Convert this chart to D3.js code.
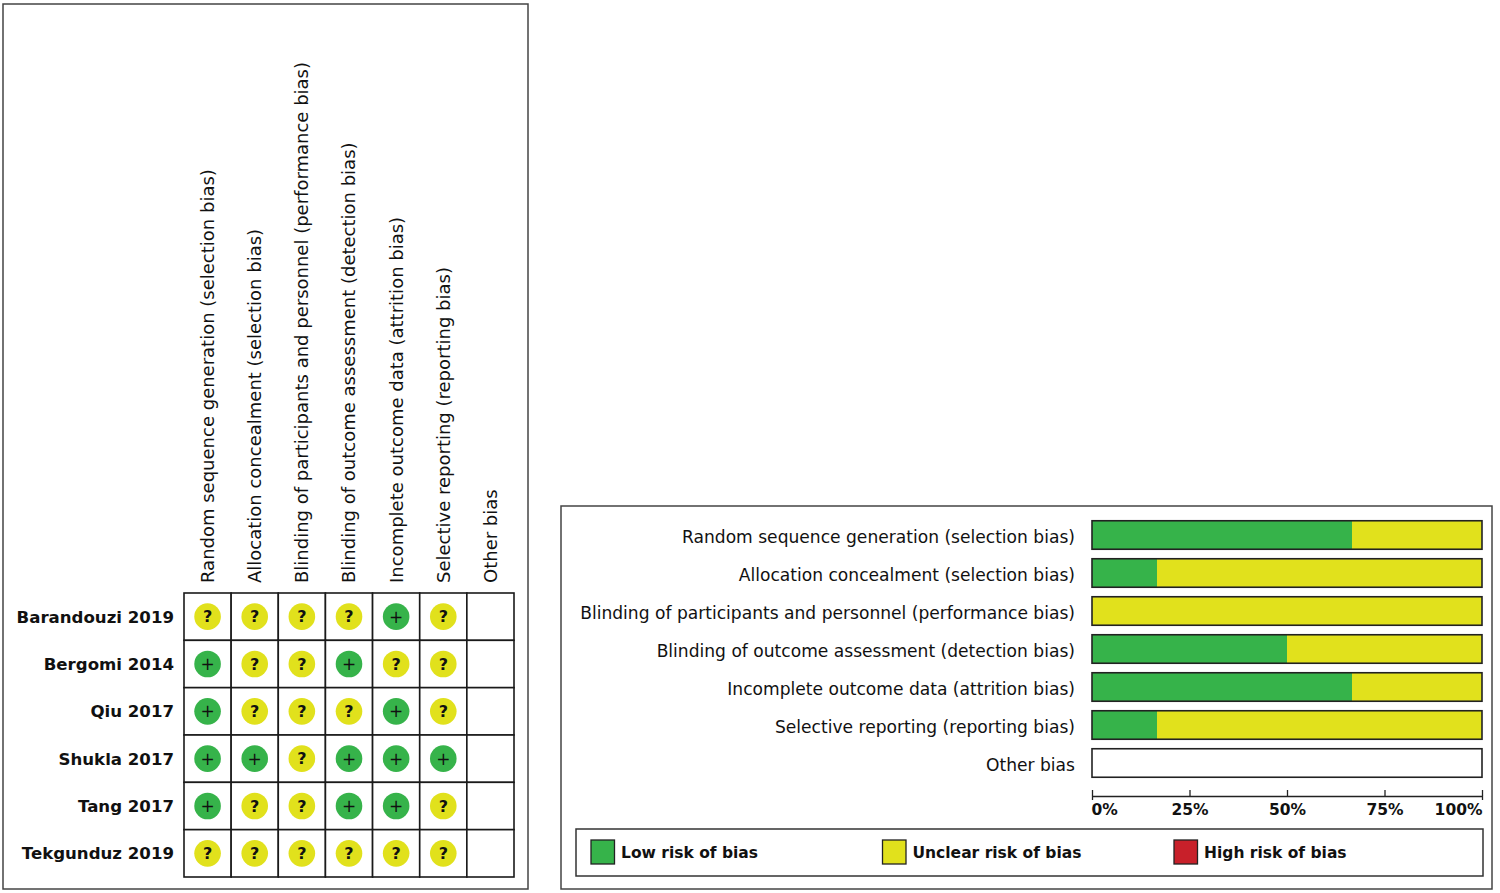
<!DOCTYPE html>
<html>
<head>
<meta charset="utf-8">
<script src="https://cdn.jsdelivr.net/npm/d3@7/dist/d3.min.js"></script>
<style>
  html, body { margin: 0; padding: 0; background: #fff; }
  svg { display: block; }
</style>
</head>
<body>
<svg id="chart" width="1500" height="893"></svg>
<script>
// ---------- DATA ----------
const domains = [
  "Random sequence generation (selection bias)",
  "Allocation concealment (selection bias)",
  "Blinding of participants and personnel (performance bias)",
  "Blinding of outcome assessment (detection bias)",
  "Incomplete outcome data (attrition bias)",
  "Selective reporting (reporting bias)",
  "Other bias"
];
const studies = [
  "Barandouzi 2019",
  "Bergomi 2014",
  "Qiu 2017",
  "Shukla 2017",
  "Tang 2017",
  "Tekgunduz 2019"
];
// L = low risk (+), U = unclear (?), H = high (-), "" = not assessed
const judgements = [
  ["U","U","U","U","L","U",""],
  ["L","U","U","L","U","U",""],
  ["L","U","U","U","L","U",""],
  ["L","L","U","L","L","L",""],
  ["L","U","U","L","L","U",""],
  ["U","U","U","U","U","U",""]
];
const riskLevels = ["L","U","H"];
const legendLabels = ["Low risk of bias","Unclear risk of bias","High risk of bias"];
const riskColors = ["#36b34a","#e1e11c","#c8202a"];
const riskSymbols = ["+","?","\u2212"];
const tickValues = [0, 0.25, 0.5, 0.75, 1];

// ---------- SETUP ----------
const svg = d3.select("#chart");
const FONT = "'DejaVu Sans', Verdana, sans-serif";
const color = d3.scaleOrdinal().domain(riskLevels).range(riskColors);
const symbol = d3.scaleOrdinal().domain(riskLevels).range(riskSymbols);

// ---------- LEFT PANEL: summary table ----------
svg.append("rect")
  .attr("x", 3).attr("y", 4).attr("width", 525).attr("height", 885)
  .attr("fill", "none").attr("stroke", "#444").attr("stroke-width", 1.5);

const gx = d3.scaleBand().domain(domains).range([184, 514]);
const gy = d3.scaleBand().domain(studies).range([593, 877]);

const left = svg.append("g");

// column headers (rotated)
left.selectAll("text.header")
  .data(domains)
  .join("text")
  .attr("class", "header")
  .attr("transform", d => `translate(${gx(d) + gx.bandwidth() / 2},583) rotate(-90)`)
  .attr("dy", "0.36em")
  .attr("font-family", FONT)
  .attr("font-size", 18)
  .attr("fill", "#111")
  .text(d => d);

// row labels
left.selectAll("text.study")
  .data(studies)
  .join("text")
  .attr("class", "study")
  .attr("x", 174)
  .attr("y", d => gy(d) + gy.bandwidth() / 2)
  .attr("dy", "0.36em")
  .attr("text-anchor", "end")
  .attr("font-family", FONT)
  .attr("font-weight", "bold")
  .attr("font-size", 16.6)
  .attr("fill", "#111")
  .text(d => d);

// cells
const cells = [];
studies.forEach((s, i) => domains.forEach((d, j) => cells.push({ study: s, domain: d, v: judgements[i][j] })));

left.selectAll("rect.cell")
  .data(cells)
  .join("rect")
  .attr("class", "cell")
  .attr("x", d => gx(d.domain))
  .attr("y", d => gy(d.study))
  .attr("width", gx.bandwidth())
  .attr("height", gy.bandwidth())
  .attr("fill", "#fff")
  .attr("stroke", "#1a1a1a")
  .attr("stroke-width", 1.6);

const marks = left.selectAll("g.mark")
  .data(cells.filter(d => d.v !== ""))
  .join("g")
  .attr("class", "mark")
  .attr("transform", d => `translate(${gx(d.domain) + gx.bandwidth() / 2},${gy(d.study) + gy.bandwidth() / 2})`);

marks.append("circle")
  .attr("r", 13.3)
  .attr("fill", d => color(d.v));

marks.append("text")
  .attr("text-anchor", "middle")
  .attr("dy", "0.36em")
  .attr("font-family", FONT)
  .attr("font-weight", d => d.v === "U" ? "bold" : "normal")
  .attr("font-size", d => d.v === "U" ? 16 : 17)
  .attr("fill", "#111")
  .text(d => symbol(d.v));

// ---------- RIGHT PANEL: summary graph ----------
svg.append("rect")
  .attr("x", 561).attr("y", 506).attr("width", 931).attr("height", 383)
  .attr("fill", "none").attr("stroke", "#444").attr("stroke-width", 1.5);

const bx = d3.scaleLinear().domain([0, 1]).range([1092, 1482]);
const by = d3.scaleBand().domain(domains).range([516, 782]).paddingInner(0.25).paddingOuter(0.125);

// proportions per domain derived from the table
const summary = domains.map((d, j) => {
  const col = judgements.map(r => r[j]).filter(v => v !== "");
  const n = col.length;
  let acc = 0;
  const segs = riskLevels.map(level => {
    const p = n ? col.filter(v => v === level).length / n : 0;
    const seg = { level, x0: acc, x1: acc + p };
    acc += p;
    return seg;
  }).filter(s => s.x1 > s.x0);
  return { domain: d, segs };
});

const right = svg.append("g");

right.selectAll("text.rlabel")
  .data(domains)
  .join("text")
  .attr("class", "rlabel")
  .attr("x", 1075)
  .attr("y", d => by(d) + by.bandwidth() / 2 + 2)
  .attr("dy", "0.36em")
  .attr("text-anchor", "end")
  .attr("font-family", FONT)
  .attr("font-size", 17.1)
  .attr("fill", "#111")
  .text(d => d);

const rows = right.selectAll("g.row")
  .data(summary)
  .join("g")
  .attr("class", "row")
  .attr("transform", d => `translate(0,${by(d.domain)})`);

rows.selectAll("rect.seg")
  .data(d => d.segs)
  .join("rect")
  .attr("class", "seg")
  .attr("x", s => bx(s.x0))
  .attr("width", s => bx(s.x1) - bx(s.x0))
  .attr("height", by.bandwidth())
  .attr("fill", s => color(s.level));

rows.append("rect")
  .attr("x", bx(0))
  .attr("width", bx(1) - bx(0))
  .attr("height", by.bandwidth())
  .attr("fill", "none")
  .attr("stroke", "#222")
  .attr("stroke-width", 1.6);

// axis
const axis = d3.axisBottom(bx)
  .tickValues(tickValues)
  .tickFormat(d3.format(".0%"))
  .tickSizeInner(-6)
  .tickSizeOuter(4)
  .tickPadding(8);

const ax = right.append("g")
  .attr("transform", "translate(0,796)")
  .call(axis);
ax.select(".domain").attr("stroke", "#222").attr("stroke-width", 1.3);
ax.selectAll(".tick line").attr("stroke", "#222").attr("stroke-width", 1.3);
ax.selectAll(".tick text")
  .attr("font-family", FONT)
  .attr("font-weight", "bold")
  .attr("font-size", 15.5)
  .attr("fill", "#111")
  .attr("text-anchor", (d, i, n) => i === 0 ? "start" : (i === n.length - 1 ? "end" : "middle"))
  .attr("dx", (d, i, n) => i === 0 ? -1 : 0);

// legend
svg.append("rect")
  .attr("x", 576).attr("y", 829).attr("width", 907).attr("height", 47)
  .attr("fill", "none").attr("stroke", "#333").attr("stroke-width", 1.5);

const lx = d3.scaleBand().domain(riskLevels).range([591, 591 + 3 * 291.5]);

const leg = svg.selectAll("g.legend")
  .data(riskLevels)
  .join("g")
  .attr("class", "legend")
  .attr("transform", d => `translate(${lx(d)},840)`);

leg.append("rect")
  .attr("width", 23.5).attr("height", 24)
  .attr("fill", d => color(d))
  .attr("stroke", "#222").attr("stroke-width", 1.3);

leg.append("text")
  .attr("x", 30)
  .attr("y", 12)
  .attr("dy", "0.36em")
  .attr("font-family", FONT)
  .attr("font-weight", "bold")
  .attr("font-size", 15.5)
  .attr("fill", "#111")
  .text((d, i) => legendLabels[i]);
</script>
</body>
</html>
